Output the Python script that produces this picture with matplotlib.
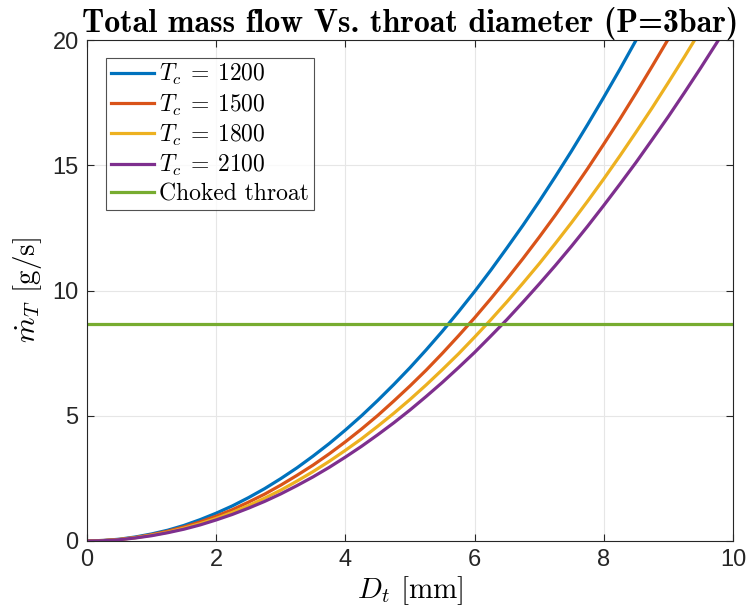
import matplotlib
matplotlib.use("Agg")
import matplotlib.pyplot as plt

plt.rcParams['mathtext.fontset'] = 'cm'
plt.rcParams['axes.unicode_minus'] = False

D = [0, 0.25, 0.5, 0.75, 1, 1.25, 1.5, 1.75, 2, 2.25, 2.5, 2.75, 3, 3.25, 3.5, 3.75, 4, 4.25, 4.5, 4.75,
     5, 5.25, 5.5, 5.75, 6, 6.25, 6.5, 6.75, 7, 7.25, 7.5, 7.75, 8, 8.25, 8.5, 8.75, 9, 9.25, 9.5, 9.75, 10]
m_1200 = [0, 0.02, 0.07, 0.16, 0.28, 0.43, 0.62, 0.85, 1.11, 1.40, 1.73, 2.09, 2.49, 2.92, 3.39, 3.89,
          4.43, 5.00, 5.61, 6.25, 6.92, 7.63, 8.37, 9.15, 9.96, 10.81, 11.70, 12.61, 13.56, 14.55, 15.57,
          16.63, 17.72, 18.84, 20.00, 21.19, 22.42, 23.68, 24.98, 26.31, 27.68]
m_1500 = [0, 0.02, 0.06, 0.14, 0.25, 0.39, 0.56, 0.76, 0.99, 1.25, 1.55, 1.87, 2.23, 2.62, 3.03, 3.48,
          3.96, 4.47, 5.01, 5.59, 6.19, 6.82, 7.49, 8.19, 8.91, 9.67, 10.46, 11.28, 12.13, 13.01, 13.93,
          14.87, 15.85, 16.85, 17.89, 18.96, 20.05, 21.18, 22.35, 23.54, 24.76]
m_1800 = [0, 0.01, 0.06, 0.13, 0.23, 0.35, 0.51, 0.69, 0.90, 1.14, 1.41, 1.71, 2.03, 2.39, 2.77, 3.18,
          3.62, 4.08, 4.58, 5.10, 5.65, 6.23, 6.84, 7.47, 8.14, 8.83, 9.55, 10.30, 11.07, 11.88, 12.71,
          13.57, 14.46, 15.38, 16.33, 17.30, 18.31, 19.34, 20.40, 21.48, 22.60]
m_2100 = [0, 0.01, 0.05, 0.12, 0.21, 0.33, 0.47, 0.64, 0.84, 1.06, 1.31, 1.58, 1.88, 2.21, 2.56, 2.94,
          3.35, 3.78, 4.24, 4.72, 5.23, 5.77, 6.33, 6.92, 7.53, 8.18, 8.84, 9.54, 10.26, 11.00, 11.77,
          12.57, 13.40, 14.25, 15.12, 16.03, 16.95, 17.91, 18.89, 19.90, 20.93]
choked = 8.68
labels = [r'$T_c\:=\:1200$', r'$T_c\:=\:1500$', r'$T_c\:=\:1800$', r'$T_c\:=\:2100$', 'Choked throat']
colors = ['#0072BD', '#D95319', '#EDB120', '#7E2F8E', '#77AC30']

fig = plt.figure(figsize=(7.48, 6.16), dpi=100)
ax = fig.add_axes([0.1163, 0.1218, 0.8637, 0.8132])

for y, lab, c in zip([m_1200, m_1500, m_1800, m_2100], labels[:4], colors[:4]):
    ax.plot(D, y, color=c, lw=2.3, label=lab)
ax.axhline(choked, color=colors[4], lw=2.3, label=labels[4])

ax.set_xlim(0, 10)
ax.set_ylim(0, 20)
ax.set_xticks([0, 2, 4, 6, 8, 10])
ax.set_yticks([0, 5, 10, 15, 20])
ax.tick_params(direction='in', length=5, labelsize=17, top=True, right=True, colors='#262626', pad=6)
for lab in ax.get_xticklabels() + ax.get_yticklabels():
    lab.set_fontfamily('Liberation Sans')
ax.grid(True, color='#e6e6e6', lw=0.8)
ax.set_axisbelow(True)
for s in ax.spines.values():
    s.set_color('#262626')
    s.set_linewidth(0.8)

ax.set_xlabel(r'$D_t$ [mm]', fontsize=21, fontfamily='cmr10', labelpad=2)
ax.set_ylabel(r'$\dot{m}_T$ [g/s]', fontsize=21, fontfamily='cmr10', labelpad=6)
ax.set_title('Total mass flow Vs. throat diameter (P=3bar)', fontsize=23, fontfamily='cmb10', pad=6)

leg = ax.legend(loc='upper left', bbox_to_anchor=(0.03, 0.965), prop={'family': 'cmr10', 'size': 17},
                frameon=True, fancybox=False, edgecolor='#262626', handlelength=1.8,
                handletextpad=0.25, labelspacing=0.22, borderpad=0.2, borderaxespad=0)
leg.get_frame().set_linewidth(0.8)

fig.savefig('out.png', dpi=100)
